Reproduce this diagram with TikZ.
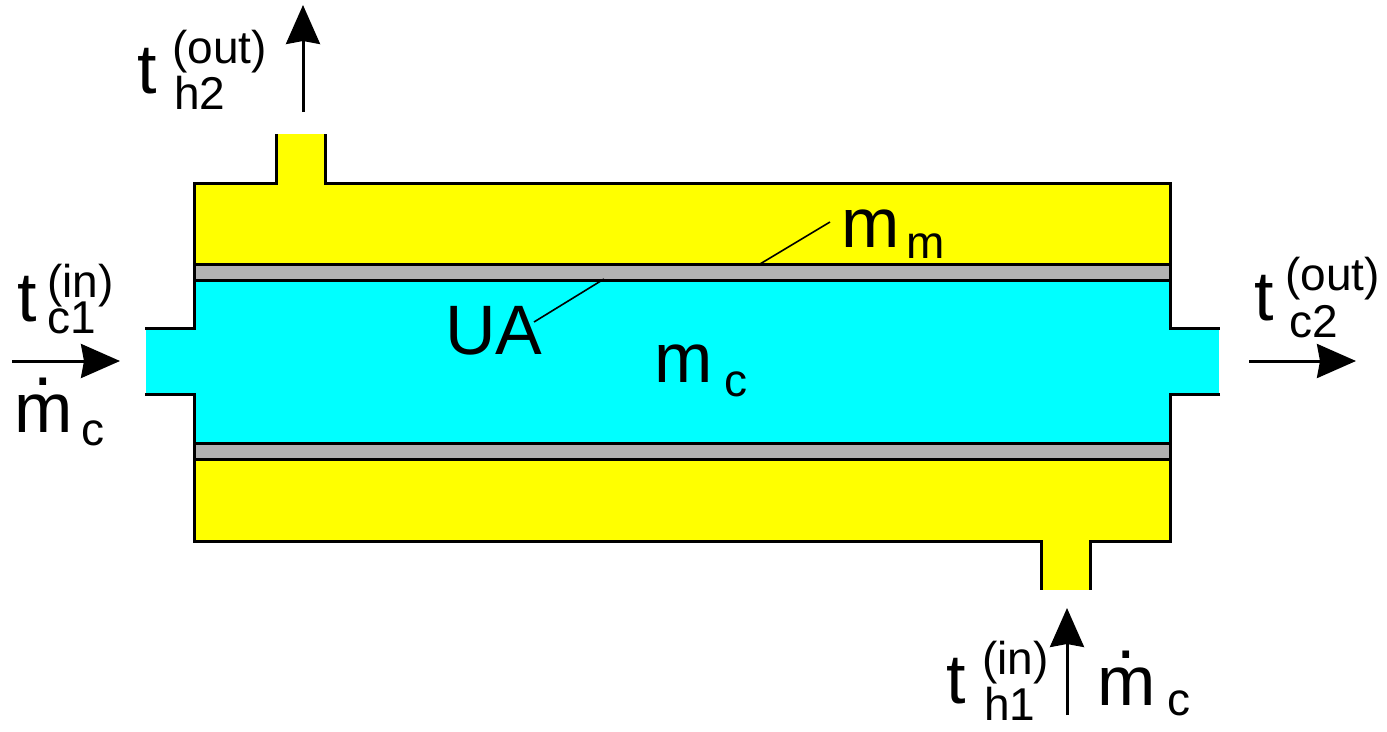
\documentclass[tikz,border=0pt]{standalone}
\usepackage{fontspec}
\setmainfont{Liberation Sans}
\usetikzlibrary{arrows.meta}
\definecolor{shellcol}{RGB}{255,255,0}
\definecolor{tubecol}{RGB}{0,255,255}
\definecolor{wallcol}{RGB}{178,178,178}
\newcommand{\mflow}{\makebox[0pt][l]{\hspace{19.3pt}\raisebox{47pt}{.}}m}
\tikzset{
  bigtext/.style={anchor=base west,inner sep=0pt,font=\fontsize{70}{70}\selectfont},
  subtext/.style={anchor=base west,inner sep=0pt,font=\fontsize{46}{46}\selectfont},
  wall/.style={line width=3pt},
  leader/.style={line width=1.6pt},
  flow/.style={line width=3pt,-{Stealth[length=39pt,width=34pt,inset=3pt]}}
}
\begin{document}
\begin{tikzpicture}[x=1pt,y=-1pt]
      \useasboundingbox (0,0) rectangle (1387,731);
      % shell and tube
      \fill[shellcol] (194,183) rectangle (1170,541);
      \fill[shellcol] (276,134) rectangle (325,183);
      \fill[shellcol] (1041,541) rectangle (1090,590);
      \fill[tubecol] (194,280) rectangle (1170,443);
      \fill[tubecol] (146,328) rectangle (194,394);
      \fill[tubecol] (1170,328) rectangle (1219,394);
      \draw[wall,fill=wallcol] (194,264) rectangle (1170,280);
      \draw[wall,fill=wallcol] (194,443) rectangle (1170,459);
      % outline
      \draw[wall] (276,134) -- (276,183) -- (194,183) -- (194,328) -- (145,328);
      \draw[wall] (325,134) -- (325,183) -- (1170,183) -- (1170,328) -- (1220,328);
      \draw[wall] (145,394) -- (194,394) -- (194,541) -- (1041,541) -- (1041,590);
      \draw[wall] (1220,394) -- (1170,394) -- (1170,541) -- (1090,541) -- (1090,590);
      % labels
      \draw
        (17,321) node[bigtext] (tc1){t}
        (47,297) node[subtext] (tc1in){(in)}
        (47,333) node[subtext] (tc1sub){c1}
        (14,432) node[bigtext] (mdotin){\mflow}
        (81,445) node[subtext] (mdotinsub){c}
        (137,93) node[bigtext] (th2){t}
        (172,63) node[subtext] (th2out){(out)}
        (174,109) node[subtext] (th2sub){h2}
        (1254,320) node[bigtext] (tc2){t}
        (1285,290) node[subtext] (tc2out){(out)}
        (1289,337) node[subtext] (tc2sub){c2}
        (946,703) node[bigtext] (th1){t}
        (982,674) node[subtext] (th1in){(in)}
        (984,720) node[subtext] (th1sub){h1}
        (1097,705) node[bigtext] (mdoth){\mflow}
        (1167,715) node[subtext] (mdothsub){c}
        (841,247) node[bigtext] (mm){m}
        (906,258) node[subtext] (mmsub){m}
        (445,354) node[bigtext] (ua){UA}
        (654,382) node[bigtext] (mc){m}
        (724,396) node[subtext] (mcsub){c};
      % flow arrows
      \coordinate (c1a) at (12,361);
      \coordinate (c1b) at (120,361);
      \coordinate (c2a) at (1249,361);
      \coordinate (c2b) at (1356,361);
      \coordinate (h2a) at (303,112);
      \coordinate (h2b) at (303,5);
      \coordinate (h1a) at (1067,715);
      \coordinate (h1b) at (1067,608);
      \coordinate (mma) at (760,264);
      \coordinate (mmb) at (830,222);
      \coordinate (uaa) at (534,322);
      \coordinate (uab) at (604,279);
      \begin{scope}[flow]
        \draw (c1a) to (c1b);
        \draw (c2a) to (c2b);
        \draw (h2a) to (h2b);
        \draw (h1a) to (h1b);
      \end{scope}
      \draw[leader] (mma) to (mmb);
      \draw[leader] (uaa) to (uab);
    \end{tikzpicture}
\end{document}
